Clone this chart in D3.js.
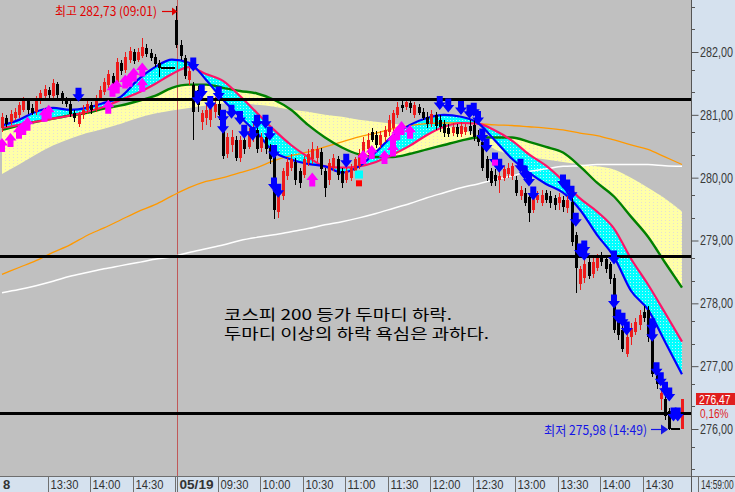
<!DOCTYPE html>
<html>
<head>
<meta charset="utf-8">
<script src="https://cdn.jsdelivr.net/npm/d3@7/dist/d3.min.js"></script>
<style>
html,body{margin:0;padding:0;background:#c0c0c0;overflow:hidden;}
svg{display:block;}
</style>
</head>
<body>
<svg id="chart" width="735" height="492"></svg>
<script>
// ---------------- DATA (3-minute bars, 05/18 12:57 .. 05/19 14:57) ----------------
const opens = [280.79,280.95,280.89,280.95,281.00,281.08,281.22,281.11,281.05,281.22,
281.30,281.40,281.30,281.49,281.34,281.24,281.18,281.03,280.86,280.99,
281.07,281.16,281.08,281.26,281.37,281.48,281.62,281.49,281.83,281.72,
281.88,282.00,281.88,281.94,282.07,281.99,281.92,281.83,281.75,281.75,
281.75,282.51,282.11,281.91,281.56,281.48,281.40,280.89,280.95,280.92,
281.05,281.18,280.89,280.38,280.52,280.60,280.32,280.60,280.49,280.64,
280.76,280.48,280.64,280.48,280.37,279.46,279.71,280.03,280.16,280.25,
280.10,280.05,280.24,280.29,280.32,280.41,280.10,279.97,280.16,280.29,
280.10,279.97,280.00,280.10,280.18,280.32,280.45,280.73,280.68,280.52,
280.64,280.73,280.79,281.00,281.16,281.13,281.19,280.99,281.13,281.05,
280.97,280.86,280.99,280.92,280.86,280.79,280.71,280.81,280.70,280.73,
280.83,280.84,280.68,280.56,280.29,280.10,280.05,279.97,280.00,280.06,
280.03,279.97,279.71,279.76,279.70,279.49,279.65,279.60,279.76,279.71,
279.68,279.60,279.65,279.52,279.62,279.08,278.30,278.41,278.66,278.46,
278.57,278.74,278.70,278.62,278.41,277.77,277.58,277.19,277.46,277.55,
277.65,277.87,277.90,277.50,276.98,276.47,276.47,276.28,276.00,276.00,
276.00];
const highs = [281.03,281.00,281.07,281.11,281.21,281.29,281.26,281.18,281.30,281.40,
281.48,281.45,281.57,281.53,281.38,281.29,281.22,281.08,281.05,281.15,
281.22,281.21,281.32,281.46,281.59,281.72,281.67,281.91,281.88,282.00,
282.08,282.05,282.07,282.23,282.13,282.04,281.97,281.88,281.75,281.75,
281.75,282.73,282.19,281.96,281.75,281.53,281.46,281.08,281.16,281.24,
281.29,281.24,280.95,280.71,280.76,280.67,280.67,280.71,280.79,280.86,
280.81,280.71,280.70,280.54,280.45,279.81,280.16,280.32,280.37,280.32,
280.16,280.35,280.45,280.57,280.51,280.48,280.16,280.29,280.37,280.35,
280.16,280.16,280.22,280.33,280.45,280.64,280.71,280.79,280.75,280.75,
280.83,280.99,281.08,281.21,281.24,281.26,281.24,281.21,281.18,281.11,
281.05,281.08,281.05,281.00,280.92,280.86,280.87,280.86,280.89,280.86,
280.91,280.91,280.76,280.64,280.35,280.16,280.13,280.10,280.19,280.24,
280.24,280.03,279.87,279.83,279.76,279.75,279.78,279.81,279.81,279.78,
279.73,279.76,279.71,279.71,279.68,279.14,278.60,278.70,278.73,278.73,
278.79,278.81,278.76,278.66,278.47,277.84,277.65,277.52,277.68,277.77,
277.90,277.96,277.96,277.57,277.04,276.65,276.53,276.34,276.00,276.00,
276.47];
const lows = [280.73,280.81,280.84,280.91,280.95,281.05,281.02,280.99,281.00,281.18,
281.26,281.27,281.27,281.27,281.18,281.13,280.97,280.89,280.81,280.94,
281.02,281.02,281.05,281.22,281.32,281.43,281.41,281.45,281.64,281.67,
281.83,281.81,281.84,281.91,281.92,281.86,281.76,281.61,281.75,281.75,
281.75,282.07,281.88,281.57,281.48,280.60,281.05,280.76,280.84,280.81,
280.95,280.92,280.29,280.32,280.41,280.27,280.25,280.37,280.45,280.57,
280.40,280.41,280.38,280.21,279.35,279.36,279.65,279.97,280.10,279.89,
279.84,280.00,280.19,280.21,280.25,280.05,279.70,279.89,280.10,279.97,
279.84,279.91,279.94,280.05,280.13,280.29,280.37,280.56,280.48,280.48,
280.57,280.67,280.75,280.95,281.05,281.08,281.03,280.95,280.99,280.91,
280.79,280.81,280.76,280.73,280.65,280.64,280.67,280.64,280.65,280.68,
280.68,280.59,280.51,280.10,279.94,279.86,279.87,279.76,279.94,280.00,
279.97,279.71,279.65,279.55,279.29,279.43,279.59,279.55,279.60,279.52,
279.49,279.49,279.46,279.44,278.92,278.17,278.22,278.33,278.38,278.41,
278.51,278.60,278.49,278.31,277.52,277.42,277.22,277.14,277.34,277.49,
277.58,277.71,277.39,276.82,276.63,276.31,276.15,275.98,276.00,276.00,
276.00];
const closes = [280.97,280.86,281.02,281.05,281.15,281.22,281.08,281.03,281.24,281.34,
281.41,281.32,281.51,281.32,281.22,281.18,281.02,280.95,281.02,281.08,
281.18,281.07,281.27,281.40,281.53,281.65,281.46,281.84,281.69,281.92,
282.02,281.86,282.00,282.08,281.97,281.91,281.81,281.75,281.75,281.75,
281.75,282.11,281.94,281.62,281.69,281.05,281.16,281.03,281.08,281.16,
281.18,281.00,280.35,280.65,280.65,280.32,280.60,280.45,280.71,280.79,
280.45,280.64,280.45,280.29,279.49,279.73,280.10,280.25,280.29,279.97,
279.92,280.29,280.37,280.45,280.45,280.13,279.84,280.24,280.32,280.05,
279.92,280.10,280.16,280.29,280.37,280.56,280.60,280.60,280.52,280.68,
280.76,280.92,281.03,281.13,281.11,281.21,281.11,281.16,281.03,280.95,
280.86,281.02,280.83,280.81,280.71,280.70,280.81,280.70,280.83,280.81,
280.75,280.64,280.57,280.16,280.00,279.92,279.94,280.03,280.13,280.16,
280.18,279.76,279.81,279.60,279.44,279.70,279.73,279.73,279.65,279.60,
279.57,279.70,279.54,279.65,278.98,278.57,278.54,278.62,278.44,278.66,
278.73,278.65,278.54,278.38,277.58,277.49,277.27,277.46,277.61,277.71,
277.82,277.77,277.46,276.87,276.71,276.58,276.20,276.00,276.00,276.00,
276.47];

// moving averages sampled every 4th bar
const pinkMA = [280.79,280.84,280.89,280.94,280.99,281.05,281.13,281.24,281.35,281.49,281.65,281.76,281.65,281.54,281.30,281.03,280.76,280.52,280.33,280.18,280.16,280.18,280.25,280.37,280.51,280.68,280.81,280.87,280.86,280.75,280.59,280.37,280.19,279.95,279.67,279.46,279.19,278.71,278.30,277.85,277.39];
const blueMA = [280.83,280.92,281.05,281.11,281.08,281.11,281.19,281.29,281.56,281.76,281.88,281.83,281.56,281.24,280.97,280.71,280.41,280.29,280.22,280.18,280.08,280.18,280.41,280.67,280.84,280.95,281.00,280.97,280.87,280.59,280.30,280.08,279.90,279.76,279.49,279.09,278.74,278.20,277.90,277.39,276.87];
const greenMA = [280.76,280.83,280.89,280.94,280.99,281.03,281.10,281.15,281.22,281.30,281.43,281.48,281.48,281.43,281.38,281.34,281.24,281.08,280.84,280.64,280.48,280.37,280.33,280.33,280.38,280.45,280.52,280.59,280.64,280.64,280.64,280.57,280.49,280.40,280.18,279.92,279.70,279.38,279.06,278.65,278.25];
const slowMA = [280.06,280.21,280.37,280.51,280.62,280.71,280.78,280.86,280.95,281.02,281.07,281.11,281.15,281.18,281.19,281.16,281.13,281.08,281.05,281.00,280.97,280.92,280.89,280.86,280.84,280.83,280.81,280.78,280.64,280.45,280.37,280.33,280.29,280.25,280.21,280.18,280.13,280.00,279.84,279.67,279.46];
const orangeMA = [278.46,278.57,278.68,278.81,278.93,279.08,279.20,279.33,279.46,279.57,279.71,279.84,279.94,280.00,280.08,280.16,280.27,280.35,280.41,280.49,280.57,280.65,280.71,280.78,280.83,280.86,280.87,280.87,280.86,280.84,280.83,280.81,280.79,280.76,280.71,280.67,280.60,280.52,280.45,280.33,280.21];
const whiteMA = [278.17,278.22,278.28,278.35,278.43,278.49,278.55,278.60,278.65,278.70,278.74,278.81,278.87,278.93,279.00,279.05,279.09,279.14,279.19,279.25,279.30,279.36,279.43,279.51,279.59,279.68,279.76,279.84,279.90,279.97,280.03,280.10,280.14,280.18,280.19,280.21,280.21,280.21,280.21,280.19,280.18];

// signals [bar index, price]
const sellSignals = [[18,281.32],[45,281.80],[46,281.27],[47,281.37],[49,281.19],[51,281.34],[52,280.97],[52,280.81],[54,281.05],[56,280.95],[57,280.73],[59,280.70],[60,280.89],[62,280.89],[63,280.70],[64,280.41],[64,279.89],[65,279.79],[81,280.27],[103,281.19],[105,281.15],[108,281.11],[110,281.05],[111,281.08],[112,280.95],[113,280.67],[114,280.51],[116,280.29],[117,280.19],[122,280.19],[123,280.08],[124,279.97],[125,279.75],[132,279.94],[133,279.86],[134,279.76],[135,279.33],[136,278.84],[137,278.89],[137,278.79],[144,278.73],[144,278.03],[145,277.79],[146,277.74],[147,277.60],[153,277.65],[153,277.50],[154,276.95],[155,276.79],[156,276.64],[157,276.55],[158,276.23],[159,276.23]];
const buySignals = [[0,280.52],[2,280.60],[4,280.73],[5,280.79],[6,280.86],[10,281.00],[11,281.05],[25,281.13],[26,281.40],[27,281.45],[29,281.53],[30,281.56],[31,281.64],[33,281.48],[33,281.72],[73,279.97],[85,280.33],[87,280.41],[90,280.33],[92,280.45],[92,280.60],[93,280.71],[94,280.79],[96,280.73]];
const magentaMarks = [[116,280.24]];
const cyanMarks = [[84,280.05]];
const redMarks = [[84,279.91]];

const timeTicks = [11,21,31,41,51,61,71,81,91,101,111,121,131,141,151];
const timeLabels = ["13:30","14:00","14:30","05/19","09:30","10:00","10:30","11:00","11:30","12:00","12:30","13:00","13:30","14:00","14:30"];
const dateTicks = ["05/19"];
const priceTicks = [276,277,278,279,280,281,282];
const levelLines = [281.25,278.75,276.25];
const highTime = "09:01", lowTime = "14:49", lastTimeLabel = "14:59:00";
const changePct = 0.16;
const noteLines = ["코스피 200 등가 두마디 하락.", "두마디 이상의 하락 욕심은 과하다."];

// ---------------- DRAWING ----------------
const W = 735, H = 492, PR = 691, PB = 476;
const svg = d3.select('#chart');
const n = opens.length;
const bars = d3.range(n);
const maIdx = d3.range(0, n, 4);
const x = d3.scaleLinear().domain([0, 160]).range([2, 682]);
const y = d3.scaleLinear().domain([276, 282]).range([429, 52]);
const step = x(1) - x(0);
const comma = v => d3.format('.2f')(v).replace('.', ',');
const KR = '"Noto Sans CJK KR", "Noto Sans", sans-serif';
const SANS = '"Liberation Sans", Arial, sans-serif';
const RED = '#EE1B1B';

const defs = svg.append('defs');
defs.append('clipPath').attr('id', 'plotClip').append('rect').attr('width', PR).attr('height', PB);
const cp = defs.append('pattern').attr('id', 'cyanPat').attr('width', 3).attr('height', 3).attr('patternUnits', 'userSpaceOnUse');
cp.append('rect').attr('width', 3).attr('height', 3).attr('fill', '#00FFFF');
cp.append('rect').attr('width', 1).attr('height', 1).attr('fill', '#BDEFF5');
const yp = defs.append('pattern').attr('id', 'yelPat').attr('width', 4).attr('height', 3).attr('patternUnits', 'userSpaceOnUse');
yp.append('rect').attr('width', 4).attr('height', 3).attr('fill', '#FFFFA8');
yp.append('rect').attr('x', 1).attr('y', 1).attr('width', 1).attr('height', 1).attr('fill', '#E4E0D4');

svg.append('rect').attr('width', W).attr('height', H).attr('fill', '#C0C0C0');
const plot = svg.append('g').attr('clip-path', 'url(#plotClip)');

const rows = maIdx.map((i, j) => ({i, pink: pinkMA[j], blue: blueMA[j], green: greenMA[j], slow: slowMA[j], orange: orangeMA[j], white: whiteMA[j]}));
const curve = d3.curveMonotoneX;

plot.append('path').datum(rows)
  .attr('d', d3.area().x(d => x(d.i)).y0(d => y(d.green)).y1(d => y(d.slow)).curve(curve))
  .attr('fill', 'url(#yelPat)');
plot.append('path').datum(rows)
  .attr('d', d3.area().x(d => x(d.i)).y0(d => y(d.pink)).y1(d => y(d.blue)).curve(curve))
  .attr('fill', 'url(#cyanPat)');

// day separator
const dayX = Math.round(x(41)) + 1.5;
plot.append('line').attr('x1', dayX).attr('x2', dayX).attr('y1', 0).attr('y2', PB).attr('stroke', '#C05858').attr('stroke-width', 1);

const lineDefs = [
  ['white', '#FFFFFF', 1.5],
  ['orange', '#FF9900', 1.3],
  ['green', '#008000', 2.4],
  ['pink', '#FF1468', 2.2],
  ['blue', '#0000FF', 2.2]
];
lineDefs.forEach(([k, c, w]) => {
  plot.append('path').datum(rows)
    .attr('d', d3.line().x(d => x(d.i)).y(d => y(d[k])).curve(curve))
    .attr('fill', 'none').attr('stroke', c).attr('stroke-width', w);
});

// candles
const real = bars.filter(i => highs[i] > lows[i]);
const flat = bars.filter(i => highs[i] === lows[i]);
const col = i => closes[i] > opens[i] ? RED : '#000';
const cg = plot.append('g').attr('shape-rendering', 'crispEdges');
cg.selectAll('rect.wick').data(real).join('rect').attr('class', 'wick')
  .attr('x', i => Math.round(x(i))).attr('y', i => y(highs[i]))
  .attr('width', 1).attr('height', i => y(lows[i]) - y(highs[i])).attr('fill', col);
cg.selectAll('rect.body').data(real).join('rect').attr('class', 'body')
  .attr('x', i => Math.round(x(i)) - 1).attr('y', i => Math.min(y(opens[i]), y(closes[i])))
  .attr('width', 3).attr('height', i => Math.max(1.5, Math.abs(y(opens[i]) - y(closes[i])))).attr('fill', col);
cg.selectAll('rect.flat').data(flat).join('rect').attr('class', 'flat')
  .attr('x', i => x(i) - step / 2).attr('y', i => Math.round(y(closes[i])) - 1)
  .attr('width', step + 0.5).attr('height', 1.5).attr('fill', '#000');

// level lines
plot.selectAll('line.level').data(levelLines).join('line').attr('class', 'level')
  .attr('x1', 0).attr('x2', PR).attr('y1', d => Math.round(y(d)) + 0.5).attr('y2', d => Math.round(y(d)) + 0.5)
  .attr('stroke', '#000').attr('stroke-width', 3);

// signals
const downPath = 'M-3,-7H3V-0.5H6L0,7L-6,-0.5H-3Z';
const upPath = 'M-3,7H3V0.5H6L0,-7L-6,0.5H-3Z';
plot.selectAll('path.buy').data(buySignals).join('path').attr('class', 'buy')
  .attr('d', upPath).attr('transform', d => `translate(${x(d[0])},${y(d[1])})`).attr('fill', '#FF00FF');
plot.selectAll('rect.cy').data(cyanMarks).join('rect').attr('class', 'cy')
  .attr('x', d => x(d[0]) - 4).attr('y', d => y(d[1]) - 4).attr('width', 8).attr('height', 8).attr('fill', '#00FFFF');
plot.selectAll('rect.rd').data(redMarks).join('rect').attr('class', 'rd')
  .attr('x', d => x(d[0]) - 3).attr('y', d => y(d[1]) - 3).attr('width', 6).attr('height', 6).attr('fill', '#FF0000');
plot.selectAll('path.sell').data(sellSignals).join('path').attr('class', 'sell')
  .attr('d', downPath).attr('transform', d => `translate(${x(d[0])},${y(d[1])})`).attr('fill', '#0000FF');
plot.selectAll('rect.mg').data(magentaMarks).join('rect').attr('class', 'mg')
  .attr('x', d => x(d[0]) - 3).attr('y', d => y(d[1]) - 3).attr('width', 6).attr('height', 6).attr('fill', '#FF00FF');

// annotation
svg.append('text').attr('x', 224).attr('y', 320).attr('font-family', KR).attr('font-size', 15)
  .attr('textLength', 228).attr('lengthAdjust', 'spacingAndGlyphs').attr('fill', '#000').text(noteLines[0]);
svg.append('text').attr('x', 224).attr('y', 339).attr('font-family', KR).attr('font-size', 15)
  .attr('textLength', 265).attr('lengthAdjust', 'spacingAndGlyphs').attr('fill', '#000').text(noteLines[1]);

// high / low labels
const hiIdx = d3.maxIndex(highs), loIdx = d3.minIndex(lows);
const hiY = 11.5, loY = 429.5;
svg.append('text').attr('x', 55).attr('y', 16).attr('font-family', KR).attr('font-size', 12.5)
  .attr('textLength', 102).attr('lengthAdjust', 'spacingAndGlyphs').attr('fill', '#E00000')
  .text(`최고 ${comma(highs[hiIdx])} (${highTime})`);
svg.append('line').attr('x1', 162).attr('x2', 173).attr('y1', hiY).attr('y2', hiY).attr('stroke', '#E00000').attr('stroke-width', 1.2);
svg.append('path').attr('d', `M172,${hiY - 4}L${x(hiIdx) + 1},${hiY}L172,${hiY + 4}Z`).attr('fill', '#E00000');

svg.append('text').attr('x', 544).attr('y', 434.5).attr('font-family', KR).attr('font-size', 13)
  .attr('textLength', 103).attr('lengthAdjust', 'spacingAndGlyphs').attr('fill', '#1414E6')
  .text(`최저 ${comma(lows[loIdx])} (${lowTime})`);
svg.append('line').attr('x1', 651).attr('x2', 662).attr('y1', loY).attr('y2', loY).attr('stroke', '#1414E6').attr('stroke-width', 1.2);
svg.append('path').attr('d', `M661,${loY - 5}L${x(loIdx) - 1},${loY}L661,${loY + 5}Z`).attr('fill', '#1414E6');

// axis panels
const PANEL = '#D5E1EE';
svg.append('rect').attr('x', PR).attr('y', 0).attr('width', W - PR).attr('height', H).attr('fill', PANEL);
svg.append('rect').attr('x', 0).attr('y', PB).attr('width', W).attr('height', H - PB).attr('fill', PANEL);
svg.append('line').attr('x1', 0).attr('x2', W).attr('y1', PB + 0.5).attr('y2', PB + 0.5).attr('stroke', '#6E6E6E');
svg.append('line').attr('x1', PR + 0.5).attr('x2', PR + 0.5).attr('y1', 0).attr('y2', H).attr('stroke', '#555');

// right axis (labels horizontally condensed with a transform so they stay inside the panel)
const SX = 0.77;
const yAxis = d3.axisRight(y).tickValues(priceTicks).tickSize(7).tickPadding(1).tickFormat(comma);
const ga = svg.append('g').attr('transform', `translate(${PR + 0.5},0)`).call(yAxis);
ga.select('.domain').remove();
ga.selectAll('line').attr('stroke', '#555');
ga.selectAll('text').attr('font-family', SANS).attr('font-size', 14).attr('fill', '#3A3A3A')
  .attr('x', 8.5 / SX).attr('transform', `scale(${SX},1)`);
const minor = [];
d3.range(275, 283).forEach(k => [0.36, 0.72].forEach(f => { const v = k + f; if (y(v) > 1 && y(v) < PB) minor.push(v); }));
svg.selectAll('line.minor').data(minor).join('line').attr('class', 'minor')
  .attr('x1', PR).attr('x2', PR + 4).attr('y1', d => Math.round(y(d)) + 0.5).attr('y2', d => Math.round(y(d)) + 0.5)
  .attr('stroke', '#555');

// last price box
const last = closes[n - 1];
const ly = Math.round(y(last));
svg.append('rect').attr('x', 696).attr('y', ly - 6).attr('width', 39).attr('height', 12).attr('fill', '#E01E1E');
svg.append('text').attr('transform', `translate(699,${ly + 4.5}) scale(0.82,1)`).attr('font-family', SANS).attr('font-size', 12.5)
  .attr('fill', '#FFFFFF').text(comma(last));
svg.append('text').attr('transform', `translate(700,${ly + 18.5}) scale(0.84,1)`).attr('font-family', SANS).attr('font-size', 12)
  .attr('fill', '#E01E1E').text(comma(changePct) + '%');

// bottom time axis
const sepX = i => Math.round(x(i)) - 0.5;
svg.selectAll('line.sep').data(timeTicks).join('line').attr('class', 'sep')
  .attr('x1', sepX).attr('x2', sepX).attr('y1', PB).attr('y2', H).attr('stroke', '#707070');
svg.append('line').attr('x1', sepX(41) + 2).attr('x2', sepX(41) + 2).attr('y1', PB).attr('y2', H).attr('stroke', '#707070');
svg.append('line').attr('x1', 698.5).attr('x2', 698.5).attr('y1', PB).attr('y2', H).attr('stroke', '#707070');
svg.selectAll('text.tl').data(timeTicks).join('text').attr('class', 'tl')
  .attr('x', (d, j) => sepX(d) + (dateTicks.includes(timeLabels[j]) ? 4 : 2)).attr('y', 489)
  .attr('font-family', SANS).attr('font-size', 13).attr('fill', '#333')
  .attr('font-weight', (d, j) => dateTicks.includes(timeLabels[j]) ? 'bold' : 'normal')
  .attr('textLength', (d, j) => dateTicks.includes(timeLabels[j]) ? 34 : 28)
  .attr('lengthAdjust', 'spacingAndGlyphs')
  .text((d, j) => timeLabels[j]);
svg.append('text').attr('x', 3).attr('y', 489).attr('font-family', SANS).attr('font-size', 13)
  .attr('font-weight', 'bold').attr('fill', '#333').text('8');
svg.append('text').attr('transform', 'translate(701,489) scale(0.7,1)').attr('font-family', SANS).attr('font-size', 12)
  .attr('fill', '#333').text(lastTimeLabel);
</script>
</body>
</html>
